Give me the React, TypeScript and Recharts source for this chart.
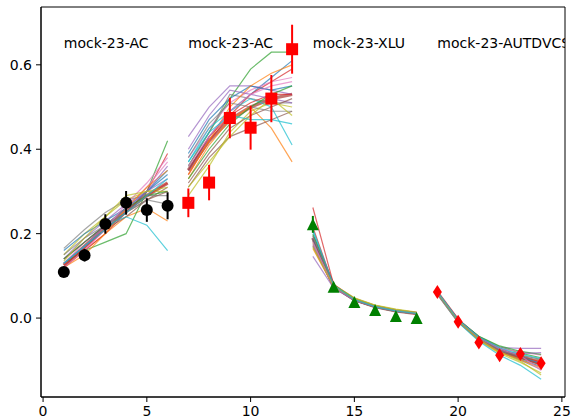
import React from 'react';
import { ComposedChart, Line, Scatter, XAxis, YAxis, ErrorBar, ReferenceArea } from 'recharts';

// Axis ticks
const xTicks = [0, 5, 10, 15, 20, 25];
const yTicks = [0, 0.2, 0.4, 0.6];

// Panel titles and the x position where each group starts
const groupNames = ['mock-23-AC', 'mock-23-AC', 'mock-23-XLU', 'mock-23-AUTDVCS'];
const groupStarts = [1, 7, 13, 19];

// Measured values with their uncertainties
const obsAC1 = [0.109, 0.149, 0.223, 0.273, 0.256, 0.266];
const errAC1 = [0.01, 0.015, 0.023, 0.028, 0.028, 0.032];
const obsAC2 = [0.273, 0.321, 0.474, 0.451, 0.52, 0.637];
const errAC2 = [0.034, 0.042, 0.048, 0.052, 0.056, 0.058];
const obsXLU = [0.222, 0.074, 0.038, 0.019, 0.005, 0.0];
const errXLU = [0.02, 0.006, 0.004, 0.003, 0.002, 0.002];
const obsAUTDVCS = [0.062, -0.009, -0.058, -0.088, -0.085, -0.107];
const errAUTDVCS = [0.006, 0.005, 0.005, 0.005, 0.006, 0.006];

// Model replicas (one row per replica, one column per point)
const samplesAC1 = [
  [0.13, 0.17, 0.21, 0.25, 0.3, 0.34],
  [0.12, 0.16, 0.2, 0.24, 0.26, 0.23],
  [0.13, 0.16, 0.18, 0.2, 0.3, 0.42],
  [0.12, 0.16, 0.2, 0.25, 0.3, 0.39],
  [0.14, 0.19, 0.23, 0.27, 0.3, 0.33],
  [0.12, 0.17, 0.21, 0.24, 0.28, 0.31],
  [0.13, 0.18, 0.22, 0.26, 0.31, 0.37],
  [0.165, 0.21, 0.25, 0.28, 0.29, 0.29],
  [0.15, 0.2, 0.24, 0.28, 0.3, 0.3],
  [0.14, 0.18, 0.22, 0.24, 0.22, 0.16],
  [0.16, 0.2, 0.23, 0.26, 0.3, 0.35],
  [0.12, 0.15, 0.2, 0.26, 0.31, 0.35],
  [0.14, 0.18, 0.22, 0.26, 0.29, 0.3],
  [0.125, 0.165, 0.21, 0.25, 0.29, 0.32],
  [0.13, 0.17, 0.22, 0.26, 0.3, 0.36],
  [0.14, 0.18, 0.22, 0.25, 0.28, 0.3],
  [0.12, 0.16, 0.21, 0.27, 0.32, 0.38],
  [0.15, 0.19, 0.22, 0.25, 0.28, 0.27],
  [0.135, 0.19, 0.24, 0.29, 0.3, 0.31],
  [0.13, 0.17, 0.21, 0.25, 0.29, 0.33],
];
const samplesAC2 = [
  [0.35, 0.43, 0.49, 0.53, 0.57, 0.61],
  [0.33, 0.41, 0.47, 0.5, 0.45, 0.37],
  [0.36, 0.44, 0.52, 0.59, 0.63, 0.63],
  [0.34, 0.42, 0.48, 0.53, 0.56, 0.59],
  [0.43, 0.5, 0.55, 0.55, 0.54, 0.53],
  [0.31, 0.38, 0.43, 0.45, 0.47, 0.49],
  [0.38, 0.45, 0.51, 0.54, 0.56, 0.57],
  [0.36, 0.44, 0.53, 0.52, 0.51, 0.51],
  [0.29, 0.36, 0.44, 0.49, 0.51, 0.5],
  [0.37, 0.45, 0.49, 0.52, 0.5, 0.41],
  [0.39, 0.47, 0.52, 0.55, 0.54, 0.55],
  [0.34, 0.42, 0.5, 0.55, 0.58, 0.6],
  [0.33, 0.4, 0.46, 0.5, 0.53, 0.55],
  [0.35, 0.43, 0.48, 0.51, 0.53, 0.53],
  [0.4, 0.48, 0.54, 0.53, 0.52, 0.51],
  [0.32, 0.39, 0.45, 0.48, 0.5, 0.52],
  [0.36, 0.43, 0.49, 0.53, 0.55, 0.56],
  [0.38, 0.46, 0.51, 0.5, 0.49, 0.49],
  [0.31, 0.37, 0.43, 0.48, 0.52, 0.48],
  [0.37, 0.44, 0.48, 0.47, 0.47, 0.46],
];
const samplesXLU = [
  [0.19, 0.076, 0.043, 0.027, 0.017, 0.011],
  [0.172, 0.074, 0.042, 0.026, 0.017, 0.012],
  [0.2, 0.078, 0.045, 0.028, 0.018, 0.012],
  [0.262, 0.08, 0.044, 0.027, 0.017, 0.011],
  [0.146, 0.071, 0.042, 0.027, 0.018, 0.012],
  [0.182, 0.075, 0.043, 0.027, 0.017, 0.011],
  [0.192, 0.077, 0.044, 0.028, 0.018, 0.012],
  [0.17, 0.073, 0.041, 0.025, 0.016, 0.01],
  [0.178, 0.079, 0.048, 0.031, 0.021, 0.014],
  [0.205, 0.076, 0.042, 0.026, 0.016, 0.01],
  [0.186, 0.075, 0.044, 0.028, 0.018, 0.012],
  [0.165, 0.074, 0.043, 0.027, 0.017, 0.012],
  [0.196, 0.078, 0.045, 0.028, 0.018, 0.011],
  [0.215, 0.077, 0.042, 0.026, 0.016, 0.01],
  [0.175, 0.073, 0.042, 0.027, 0.018, 0.013],
  [0.188, 0.076, 0.044, 0.028, 0.018, 0.012],
  [0.18, 0.075, 0.043, 0.027, 0.017, 0.011],
  [0.195, 0.077, 0.043, 0.026, 0.016, 0.01],
  [0.168, 0.076, 0.046, 0.03, 0.02, 0.013],
  [0.21, 0.078, 0.044, 0.027, 0.017, 0.011],
];
const samplesAUTDVCS = [
  [0.06, -0.006, -0.048, -0.078, -0.098, -0.115],
  [0.058, -0.008, -0.052, -0.082, -0.096, -0.1],
  [0.061, -0.004, -0.044, -0.068, -0.083, -0.094],
  [0.06, -0.005, -0.046, -0.072, -0.09, -0.104],
  [0.062, -0.003, -0.045, -0.07, -0.072, -0.072],
  [0.059, -0.007, -0.05, -0.076, -0.088, -0.098],
  [0.061, -0.005, -0.047, -0.072, -0.08, -0.088],
  [0.06, -0.006, -0.049, -0.079, -0.1, -0.122],
  [0.058, -0.009, -0.053, -0.084, -0.105, -0.13],
  [0.057, -0.01, -0.055, -0.088, -0.112, -0.145],
  [0.061, -0.005, -0.047, -0.074, -0.092, -0.108],
  [0.059, -0.007, -0.05, -0.08, -0.099, -0.118],
  [0.06, -0.004, -0.043, -0.066, -0.079, -0.086],
  [0.062, -0.003, -0.046, -0.075, -0.094, -0.112],
  [0.058, -0.008, -0.051, -0.078, -0.084, -0.082],
  [0.06, -0.006, -0.048, -0.077, -0.095, -0.11],
  [0.061, -0.005, -0.047, -0.073, -0.089, -0.124],
  [0.059, -0.007, -0.049, -0.076, -0.091, -0.1],
  [0.06, -0.006, -0.05, -0.081, -0.102, -0.135],
  [0.062, -0.004, -0.045, -0.071, -0.086, -0.096],
];

// Replica mean for each group
const meanAC1 = [0.125, 0.17, 0.215, 0.255, 0.29, 0.32];
const meanAC2 = [0.35, 0.42, 0.47, 0.5, 0.52, 0.53];
const meanXLU = [0.19, 0.076, 0.044, 0.027, 0.017, 0.011];
const meanAUTDVCS = [0.06, -0.006, -0.048, -0.076, -0.092, -0.107];

const palette = ['#1f77b4', '#ff7f0e', '#2ca02c', '#d62728', '#9467bd', '#8c564b', '#e377c2', '#7f7f7f', '#bcbd22', '#17becf'];
const FONT = 'DejaVu Sans';

const groups = [
  { samples: samplesAC1, mean: meanAC1, obs: obsAC1, err: errAC1 },
  { samples: samplesAC2, mean: meanAC2, obs: obsAC2, err: errAC2 },
  { samples: samplesXLU, mean: meanXLU, obs: obsXLU, err: errXLU },
  { samples: samplesAUTDVCS, mean: meanAUTDVCS, obs: obsAUTDVCS, err: errAUTDVCS },
];

// One row per x; an empty row between groups breaks the curves
const lineRows: Record<string, number>[] = [];
groups.forEach((g, gi) => {
  for (let i = 0; i < 6; i++) {
    const row: Record<string, number> = { x: groupStarts[gi] + i, mean: g.mean[i] };
    g.samples.forEach((s, si) => {
      row['s' + si] = s[i];
    });
    lineRows.push(row);
  }
  if (gi < groups.length - 1) lineRows.push({ x: groupStarts[gi] + 5.5 });
});

const obsRows = groups.map((g, gi) =>
  g.obs.map((y, i) => ({ x: groupStarts[gi] + i, y, err: g.err[i] }))
);
const titleRows = groupStarts.map((x, i) => ({ x, y: 0.65, name: groupNames[i] }));
const sampleKeys = samplesAC1.map((_, i) => 's' + i);

const CircleMark = (p: any) => <circle cx={p.cx} cy={p.cy} r={6} fill="#000" />;
const SquareMark = (p: any) => <rect x={p.cx - 6} y={p.cy - 6} width={12} height={12} fill="#ff0000" />;
const TriangleMark = (p: any) => (
  <polygon
    points={`${p.cx},${p.cy - 6} ${p.cx - 6},${p.cy + 6} ${p.cx + 6},${p.cy + 6}`}
    fill="#008000"
  />
);
const DiamondMark = (p: any) => (
  <polygon
    points={`${p.cx},${p.cy - 7} ${p.cx + 4.5},${p.cy} ${p.cx},${p.cy + 7} ${p.cx - 4.5},${p.cy}`}
    fill="#ff0000"
  />
);
const TitleMark = (p: any) => (
  <text x={p.cx} y={p.cy} dy="0.3em" fontSize={14} fontFamily={FONT} fill="#000">
    {p.payload.name}
  </text>
);

const markers = [
  { shape: CircleMark, color: '#000' },
  { shape: SquareMark, color: '#ff0000' },
  { shape: TriangleMark, color: '#008000' },
  { shape: DiamondMark, color: '#ff0000' },
];

const X_DOMAIN: [number, number] = [-0.1, 25.15];
const Y_DOMAIN: [number, number] = [-0.187, 0.737];
const tickStyle = { fill: '#000', fontSize: 14, fontFamily: FONT };

export default function App() {
  return (
    <div style={{ position: 'absolute', left: 0, top: 0, background: '#fff' }}>
      <ComposedChart
        width={576}
        height={420}
        data={lineRows}
        margin={{ top: 7, right: 11, bottom: 0, left: 0 }}
      >
        <XAxis
          dataKey="x"
          type="number"
          domain={X_DOMAIN}
          allowDataOverflow
          ticks={xTicks}
          height={23}
          tickSize={5}
          tickMargin={4}
          tick={tickStyle}
          axisLine={{ stroke: '#000' }}
          tickLine={{ stroke: '#000' }}
        />
        <YAxis
          type="number"
          domain={Y_DOMAIN}
          allowDataOverflow
          ticks={yTicks}
          width={41}
          tickSize={5}
          tickMargin={4}
          tick={tickStyle}
          tickFormatter={(v: number) => v.toFixed(1)}
          axisLine={{ stroke: '#000' }}
          tickLine={{ stroke: '#000' }}
        />
        <Line
          dataKey="mean"
          stroke="#b4514a"
          strokeWidth={3.5}
          strokeOpacity={0.8}
          dot={false}
          activeDot={false}
          isAnimationActive={false}
        />
        {sampleKeys.map((k, i) => (
          <Line
            key={k}
            dataKey={k}
            stroke={palette[i % palette.length]}
            strokeWidth={1.2}
            strokeOpacity={0.7}
            dot={false}
            activeDot={false}
            isAnimationActive={false}
          />
        ))}
        {markers.map((m, gi) => (
          <Scatter
            key={'obs' + gi}
            data={obsRows[gi]}
            dataKey="y"
            shape={m.shape}
            isAnimationActive={false}
          >
            <ErrorBar dataKey="err" direction="y" width={0} stroke={m.color} strokeWidth={2} />
          </Scatter>
        ))}
        <Scatter data={titleRows} dataKey="y" shape={TitleMark} isAnimationActive={false} />
        <ReferenceArea
          x1={X_DOMAIN[0]}
          x2={X_DOMAIN[1]}
          y1={Y_DOMAIN[0]}
          y2={Y_DOMAIN[1]}
          fill="none"
          fillOpacity={0}
          stroke="#000"
          strokeWidth={1}
        />
      </ComposedChart>
    </div>
  );
}
